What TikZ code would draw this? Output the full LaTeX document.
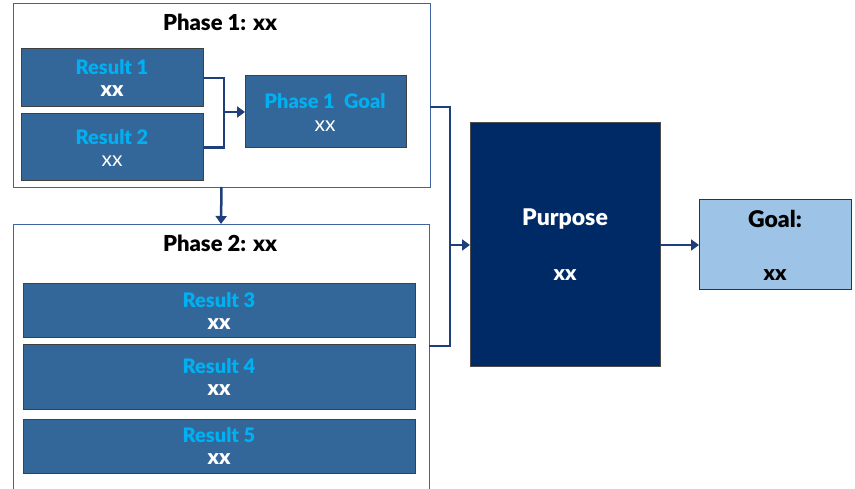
\documentclass[tikz,border=0pt]{standalone}
\usepackage{fontspec}
\setmainfont{Lato}[BoldFont={Lato Black}]
\usetikzlibrary{arrows.meta}
\definecolor{resfill}{HTML}{336699}
\definecolor{rescyan}{HTML}{00B0F0}
\definecolor{navy}{HTML}{002A66}
\definecolor{goalfill}{HTML}{9DC3E6}
\definecolor{conn}{HTML}{1F3F7A}
\definecolor{phaseborder}{HTML}{3F64A0}
\tikzset{
  phasebox/.style={draw=phaseborder, line width=0.8pt, fill=white, inner sep=0pt, outer sep=0pt},
  resbox/.style={draw=black!75, line width=1pt, fill=resfill, inner sep=0pt, outer sep=0pt},
  restitle/.style={text=rescyan, font=\fontsize{20}{24}\selectfont\bfseries, inner sep=0pt},
  resval/.style={text=white, font=\fontsize{21}{24}\selectfont\bfseries, inner sep=0pt},
  resvalreg/.style={text=white, font=\fontsize{21}{24}\selectfont, inner sep=0pt},
  phtitle/.style={text=black, font=\fontsize{22}{26}\selectfont\bfseries, inner sep=0pt},
  link/.style={draw=conn, line width=2.5pt},
  arrowlink/.style={link, -{Triangle[length=8pt,width=11pt]}},
}
\begin{document}
\begin{tikzpicture}[x=1pt,y=-1pt]
\clip (0,0) rectangle (855,489);
\fill[white] (0,0) rectangle (855,489);
% Phase 1
\node[phasebox, minimum width=417pt, minimum height=184pt] (ph1) at (221.5,95) {};
\node[phtitle] (t1) at (220,22) {Phase 1: xx};
\node[resbox, minimum width=182pt, minimum height=58pt] (r1) at (112,78) {};
\node[restitle] (r1a) at (112,67) {Result 1};
\node[resval] (r1b) at (112,91) {xx};
\node[resbox, minimum width=182pt, minimum height=67pt] (r2) at (112,147.5) {};
\node[restitle] (r2a) at (112,137) {Result 2};
\node[resvalreg] (r2b) at (112,161) {xx};
\node[resbox, minimum width=161pt, minimum height=72pt] (g1) at (325.5,112) {};
\node[restitle] (g1a) at (325,101) {Phase 1\ \ Goal};
\node[resvalreg] (g1b) at (325,126) {xx};
\coordinate (j1) at (224,112);
\draw[link] (r1.east) -| (j1);
\draw[link] (r2.east) -| (j1);
\draw[arrowlink] (j1) -- (g1.west);
% Phase 2
\node[phasebox, minimum width=416pt, minimum height=271pt] (ph2) at (221,359.5) {};
\node[phtitle] (t2) at (220,243) {Phase 2: xx};
\node[resbox, minimum width=392pt, minimum height=54pt] (r3) at (219,311) {};
\node[restitle] (r3a) at (219,300) {Result 3};
\node[resval] (r3b) at (219,324) {xx};
\node[resbox, minimum width=392pt, minimum height=64pt] (r4) at (219,377) {};
\node[restitle] (r4a) at (219,366) {Result 4};
\node[resval] (r4b) at (219,390) {xx};
\node[resbox, minimum width=392pt, minimum height=54pt] (r5) at (219,446) {};
\node[restitle] (r5a) at (219,435) {Result 5};
\node[resval] (r5b) at (219,459) {xx};
\draw[arrowlink] (ph1.south) -- (ph2.north);
% Purpose
\node[draw=black!70, line width=1pt, fill=navy, minimum width=190pt, minimum height=244pt, inner sep=0pt, outer sep=0pt] (pur) at (565,245) {};
\node[resval, font=\fontsize{23}{26}\selectfont\bfseries] (pura) at (565,219) {Purpose};
\node[resval] (purb) at (565,275) {xx};
\coordinate (j2) at (450,245);
\draw[link] ([yshift=-12pt]ph1.east) -| (j2);
\draw[link] ([yshift=13.5pt]ph2.east) -| (j2);
\draw[arrowlink] (j2) -- (pur.west);
% Goal
\node[draw=black!80, line width=1pt, fill=goalfill, minimum width=152pt, minimum height=90pt, inner sep=0pt, outer sep=0pt] (goal) at (775,245) {};
\node[phtitle, font=\fontsize{23}{26}\selectfont\bfseries] (goala) at (775,219) {Goal:};
\node[phtitle, font=\fontsize{21}{24}\selectfont\bfseries] (goalb) at (775,275) {xx};
\draw[arrowlink] (pur.east) -- (goal.west);
\end{tikzpicture}
\end{document}
